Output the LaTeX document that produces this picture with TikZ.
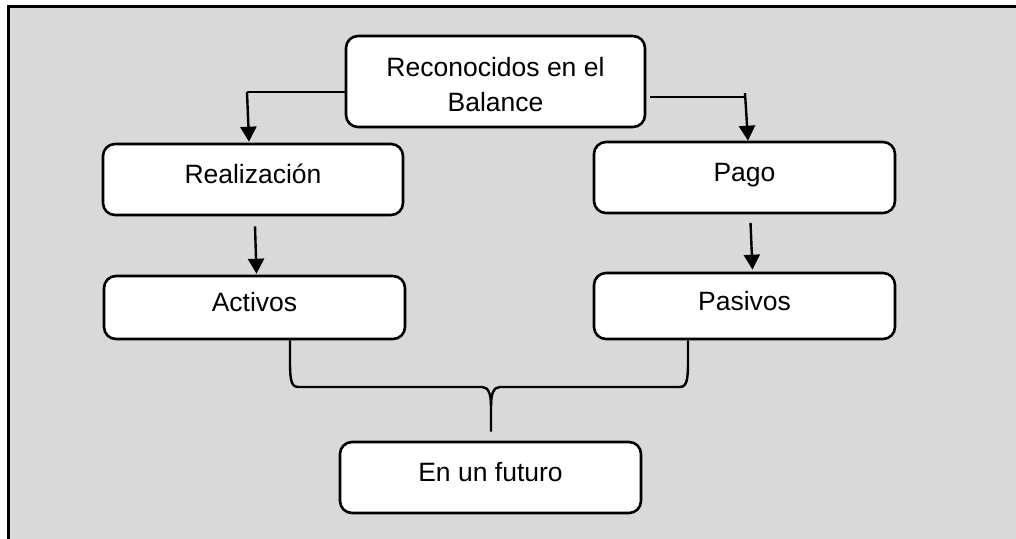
\documentclass[tikz,border=0pt]{standalone}
\usepackage{fontspec}
\setmainfont{Liberation Sans}
\usetikzlibrary{calc,arrows.meta}
\definecolor{bggray}{HTML}{D9D9D9}
\begin{document}
\begin{tikzpicture}[x=1pt,y=-1pt,
  box/.style={draw=black, fill=white, line width=2.6pt, rounded corners=12pt,
    inner sep=0pt, minimum width=301pt, minimum height=71pt,
    font=\fontsize{26.5}{35}\selectfont, text height=20pt, text depth=12pt},
  conn/.style={draw=black, line width=2.4pt},
  arr/.style={conn, -{Triangle[length=15pt,width=16pt]}}]
\useasboundingbox (0,0) rectangle (1016,538);
\begin{scope}
\clip (0,0) rectangle (1016,538);
\draw[fill=bggray, line width=2.7pt] (8.7,6.7) rectangle (1030,560);
\end{scope}
% nodes
\node[box, minimum width=299pt, minimum height=91pt, text height=20pt, text depth=31pt]
  (top) at (495.5,81.5) {\begin{tabular}[t]{@{}c@{}}Reconocidos en el\\Balance\end{tabular}};
\node[box, minimum width=300pt] (real) at (253,179.5) {Realización};
\node[box, minimum height=63pt] (act) at (254.5,307.5) {Activos};
\node[box] (pago) at (744.5,177.5) {Pago};
\node[box, minimum height=66pt] (pas) at (744.5,306) {Pasivos};
\node[box] (fut) at (490.5,477.5) {En un futuro};
% connectors from top box
\coordinate (L1) at (247,92);
\draw[conn] ($(top.west)+(0,10.5)$) -- (L1);
\draw[arr] (L1) -- ($(real.north)+(-4,-1)$);
\coordinate (R1) at (745,97);
\coordinate (R0) at (745,93);
\draw[conn] ($(top.east)+(4,15.5)$) -- (R1);
\draw[arr] (R0) -- ($(pago.north)+(3.5,0)$);
% vertical arrows
\draw[arr] ($(real.south)+(2,10)$) -- ($(act.north)+(2,-1)$);
\draw[arr] ($(pago.south)+(6,8.5)$) -- ($(pas.north)+(8,-2)$);
% brace
\coordinate (bL) at ($(act.south)+(35.5,0)$);
\coordinate (bR) at ($(pas.south)+(-56.5,0)$);
\coordinate (bC) at ($(fut.north)+(0.5,-9)$);
\draw[conn, line join=round] (bL) -- (290,362) .. controls (290,383) and (292,387) .. (299,387)
  -- (482,387) .. controls (488,387) and (491,393) .. (491,406) -- (bC);
\draw[conn, line join=round] (bR) -- (688,362) .. controls (688,383) and (686,387) .. (679,387)
  -- (500,387) .. controls (494,387) and (491,393) .. (491,406);
\end{tikzpicture}
\end{document}
